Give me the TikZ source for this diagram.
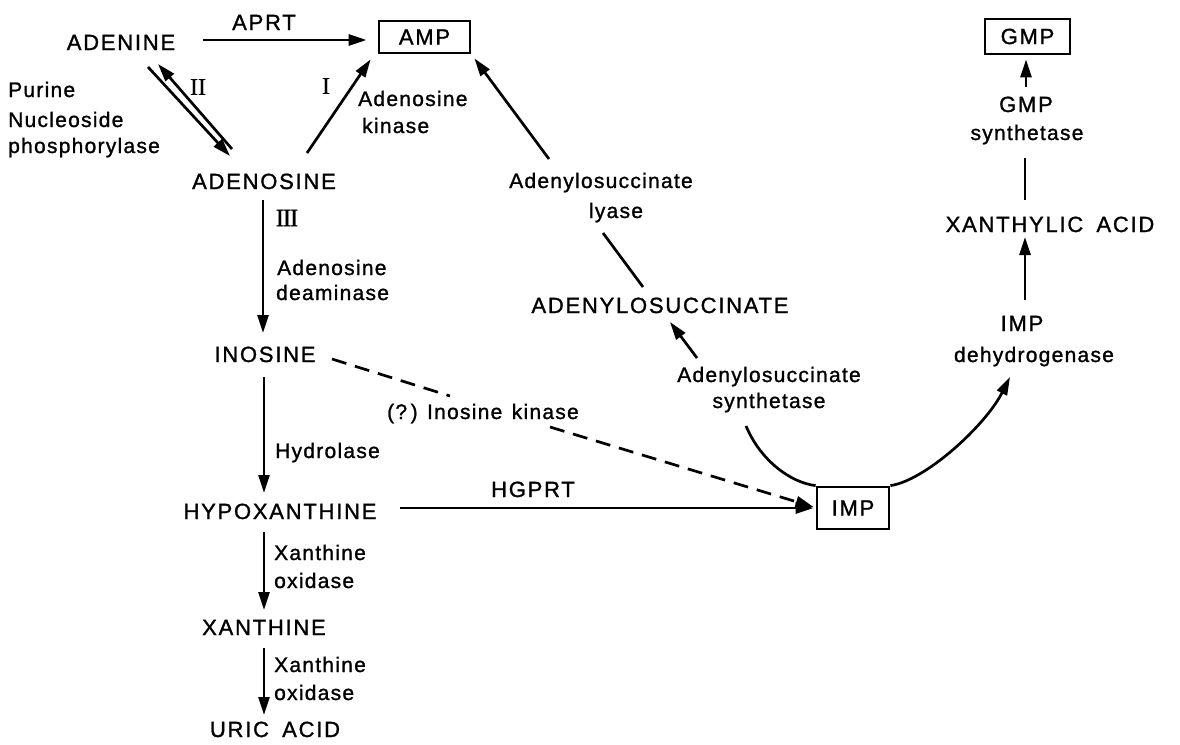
\documentclass[tikz,border=0pt]{standalone}
\usepackage{fontspec}
\setmainfont{Liberation Sans}
\newfontfamily\capfont{Liberation Sans}[LetterSpace=8,FakeBold=1.2]
\newfontfamily\lowfont{Liberation Sans}[LetterSpace=6,FakeBold=1.2]
\newfontfamily\numfont{Liberation Serif}[FakeBold=0.8]
\newfontfamily\numfontt{Liberation Serif}[LetterSpace=-5,FakeBold=0.8]
\usetikzlibrary{arrows.meta}
\begin{document}
\begin{tikzpicture}[x=1pt,y=-1pt,
  met/.style={inner sep=0pt, anchor=base, font=\capfont\fontsize{22}{26}\selectfont},
  enz/.style={inner sep=0pt, anchor=base, font=\lowfont\fontsize{21}{25}\selectfont},
  enzl/.style={enz, anchor=base west},
  num/.style={inner sep=0pt, font=\numfont\fontsize{24}{28}\selectfont},
  boxnode/.style={draw, line width=2.8pt, inner sep=0pt, font=\capfont\fontsize{22}{26}\selectfont},
  ln/.style={line width=2.7pt},
  arr/.style={ln, -{Triangle[length=18pt,width=11pt]}},
  dsh/.style={ln, dash pattern=on 15pt off 9pt},
  dsharr/.style={arr, dash pattern=on 15pt off 9pt}
]
\fill[white] (0,0) rectangle (1180,744);
\useasboundingbox (0,0) rectangle (1180,744);

% metabolites
\node[met] (adenine) at (121,50) {ADENINE};
\node[met] (aprt) at (264,30) {APRT};
\node[met] (adenosine) at (264,189) {ADENOSINE};
\node[met] (inosine) at (265,362) {INOSINE};
\node[met] (hypox) at (280,519) {HYPOXANTHINE};
\node[met] (xanthine) at (264,635) {XANTHINE};
\node[met] (uric) at (275,737) {URIC\hspace{0.6em}ACID};
\node[met] (adsucc) at (660,313) {ADENYLOSUCCINATE};
\node[met] (xanthylic) at (1050,232) {XANTHYLIC\hspace{0.6em}ACID};
\node[met] (impl) at (1022,331) {IMP};
\node[met] (gmpl) at (1026,112) {GMP};
\node[met] (hgprt) at (533,497) {HGPRT};

% boxes
\node[boxnode, minimum width=91, minimum height=32] (amp) at (424.5,37) {AMP};
\node[boxnode, minimum width=72, minimum height=42] (imp) at (853,508) {IMP};
\node[boxnode, minimum width=85, minimum height=35] (gmp) at (1027.5,36.5) {GMP};

% enzyme labels
\node[enzl] (pnp1) at (8,97) {Purine};
\node[enzl] (pnp2) at (8,127) {Nucleoside};
\node[enzl] (pnp3) at (8,153) {phosphorylase};
\node[enzl] (ak1) at (358,106) {Adenosine};
\node[enzl] (ak2) at (362,133) {kinase};
\node[enz] (lyaseA) at (601,188) {Adenylosuccinate};
\node[enz] (lyaseB) at (616,218) {lyase};
\node[enzl] (ada1) at (277,275) {Adenosine};
\node[enzl] (ada2) at (276,300) {deaminase};
\node[enzl] (hydro) at (275,458) {Hydrolase};
\node[enzl] (xo1) at (274,560) {Xanthine};
\node[enzl] (xo2) at (274,588) {oxidase};
\node[enzl] (xo3) at (274,672) {Xanthine};
\node[enzl] (xo4) at (274,700) {oxidase};
\node[enz] (synA) at (769,382) {Adenylosuccinate};
\node[enz] (synB) at (769,408) {synthetase};
\node[enz] (gmps) at (1027,140) {synthetase};
\node[enz] (dehyd) at (1034,362) {dehydrogenase};
\node[enzl] (inok) at (387,419) {(?\,)\hspace{0.45em}Inosine\hspace{0.45em}kinase};

% roman numerals
\node[num] (n1) at (326,86) {I};
\node[num] (n2) at (198,87) {II};
\node[num, font=\numfontt\fontsize{25}{28}\selectfont] (n3) at (287,218) {III};

% connectors
\draw[arr] ([shift={(82,-10)}]adenine.base) -- ([shift={(-11,3)}]amp.west);
\draw[arr] ([shift={(27,17)}]adenine.base) -- ([shift={(-34,-33)}]adenosine.base);
\draw[arr] ([shift={(-32,-40)}]adenosine.base) -- ([shift={(37,14)}]adenine.base);
\draw[arr] ([shift={(43,-36)}]adenosine.base) -- ([shift={(-7,5)}]amp.south west);
\draw[arr] ([shift={(-52,-29)}]lyaseA.base) -- ([shift={(3,4)}]amp.south east);
\draw[ln] ([shift={(-17,-26)}]adsucc.base) -- ([shift={(-13,15)}]lyaseB.base);
\draw[arr] ([shift={(-72,-24)}]synA.base) -- ([shift={(10,9)}]adsucc.base);
\draw[ln] (imp.north west) .. controls ([shift={(-25,-3)}]imp.north west) and ([shift={(-55,-25)}]imp.north west) .. ([shift={(-23,18)}]synB.base);
\draw[arr] (imp.north east) .. controls ([shift={(35,-5)}]imp.north east) and ([shift={(95,-60)}]imp.north east) .. ([shift={(-24,15)}]dehyd.base);
\draw[arr] ([shift={(3,-31)}]impl.base) -- ([shift={(-25,5)}]xanthylic.base);
\draw[ln] ([shift={(-25,-32)}]xanthylic.base) -- ([shift={(-2,18)}]gmps.base);
\draw[arr] ([shift={(0,-25)}]gmpl.base) -- ([shift={(-1.5,4)}]gmp.south);
\draw[arr] ([shift={(-1,11)}]adenosine.base) -- ([shift={(-2,-29)}]inosine.base);
\draw[arr] ([shift={(-1,15)}]inosine.base) -- ([shift={(-16,-26)}]hypox.base);
\draw[arr] ([shift={(-16,13)}]hypox.base) -- ([shift={(0,-25)}]xanthine.base);
\draw[arr] ([shift={(0,13)}]xanthine.base) -- ([shift={(-11,-22)}]uric.base);
\draw[arr] ([shift={(120,-11)}]hypox.base) -- ([shift={(-2,0)}]imp.west);
\draw[dsh] ([shift={(67,-3)}]inosine.base) -- ([shift={(63,-23)}]inok.base west);
\draw[dsharr] ([shift={(163,8)}]inok.base west) -- ([shift={(-2,-1)}]imp.west);
\end{tikzpicture}
\end{document}
